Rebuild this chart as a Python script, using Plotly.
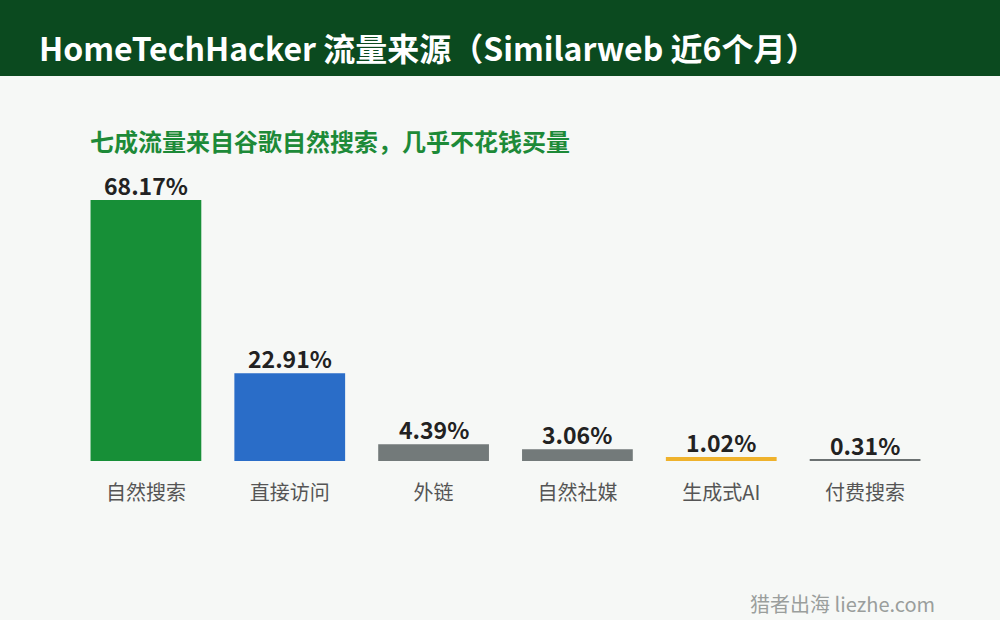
import plotly.graph_objects as go

categories = ["自然搜索", "直接访问", "外链", "自然社媒", "生成式AI", "付费搜索"]
values = [68.17, 22.91, 4.39, 3.06, 1.02, 0.31]
value_labels = ["68.17%", "22.91%", "4.39%", "3.06%", "1.02%", "0.31%"]
bar_colors = ["#178f37", "#2a6dc8", "#737a7a", "#737a7a", "#efb22c", "#6b7171"]

FONT = "Noto Sans CJK SC"

fig = go.Figure()
fig.add_trace(go.Bar(
    x=categories, y=values,
    marker=dict(color=bar_colors, line=dict(width=0)),
    cliponaxis=False, width=0.77,
))

annotations = [
    dict(x=c, y=v, xref="x", yref="y", text="<b>%s</b>" % t, showarrow=False,
         yanchor="bottom", xanchor="center", yshift=-4,
         font=dict(family=FONT, size=23, color="#222222"))
    for c, v, t in zip(categories, values, value_labels)
]
annotations += [
    dict(text="<b>HomeTechHacker 流量来源（Similarweb 近6个月）</b>",
         xref="paper", yref="paper", x=(36 - 73.5) / 864, y=1 + (190 - 47) / 271,
         xanchor="left", yanchor="middle", showarrow=False,
         font=dict(family=FONT, size=32, color="#ffffff")),
    dict(text="<b>七成流量来自谷歌自然搜索，几乎不花钱买量</b>",
         xref="paper", yref="paper", x=(88 - 73.5) / 864, y=1 + (190 - 140) / 271,
         xanchor="left", yanchor="middle", showarrow=False,
         font=dict(family=FONT, size=24, color="#1d8a38")),
    dict(text="猎者出海 liezhe.com",
         xref="paper", yref="paper", x=(937 - 73.5) / 864, y=-(603 - 461) / 271,
         xanchor="right", yanchor="middle", showarrow=False,
         font=dict(family=FONT, size=20, color="#9a9e9c")),
]

fig.update_layout(
    width=1000, height=620,
    paper_bgcolor="#f6f8f6", plot_bgcolor="#f6f8f6",
    margin=dict(l=73.5, r=62.5, t=190, b=159),
    showlegend=False,
    font=dict(family=FONT),
    xaxis=dict(showgrid=False, zeroline=False, showline=False, ticks="",
               tickfont=dict(family=FONT, size=20, color="#555555"),
               ticklabelstandoff=18, fixedrange=True),
    yaxis=dict(range=[0, 70.78], visible=False, fixedrange=True),
    shapes=[dict(type="rect", xref="paper", yref="paper", x0=-0.2, x1=1.2,
                 y0=1 + (190 - 76) / 271, y1=1 + 200 / 271,
                 fillcolor="#0b4a1f", line=dict(width=0), layer="below")],
    annotations=annotations,
)

fig.write_html("out.html", config={"displayModeBar": False},
               post_script="document.body.style.margin='0';document.body.style.overflow='hidden';")
